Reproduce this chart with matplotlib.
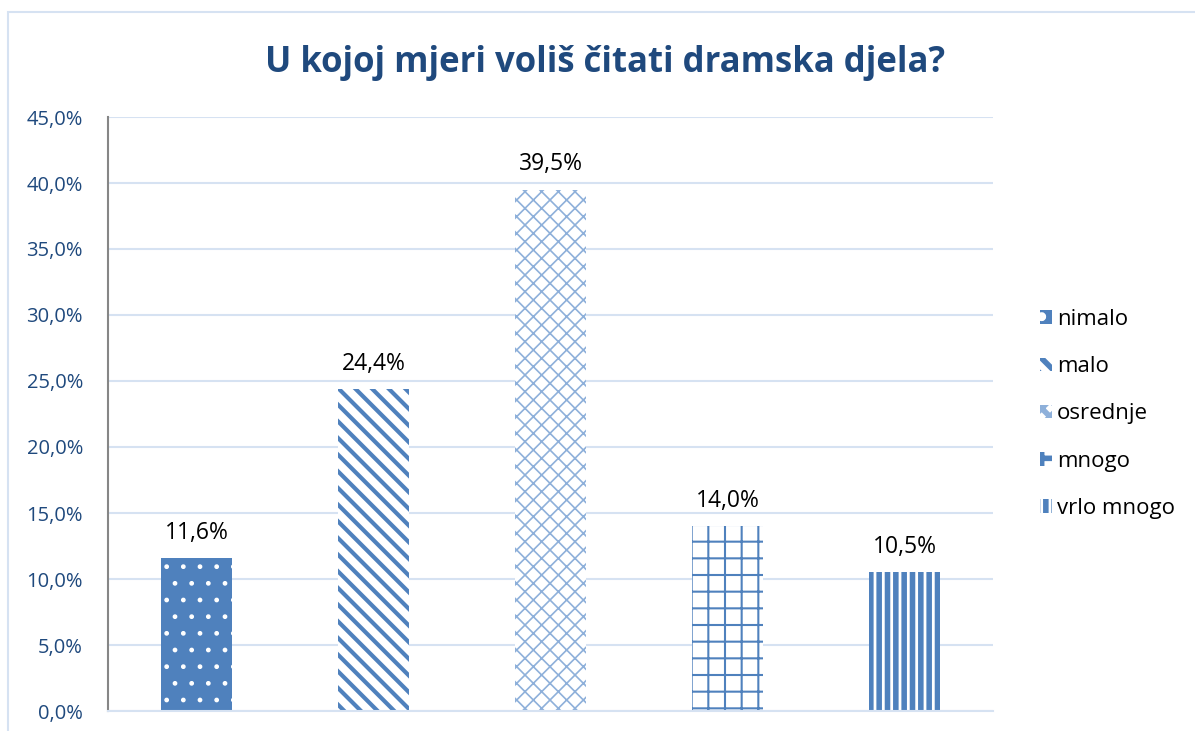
import matplotlib.pyplot as plt
import matplotlib.patches as mpatches
import numpy as np

# podaci
kategorije = ['nimalo', 'malo', 'osrednje', 'mnogo', 'vrlo mnogo']
postotci = [11.6, 24.4, 39.5, 14.0, 10.5]
oznake = ['11,6%', '24,4%', '39,5%', '14,0%', '10,5%']
y_ticks = [0, 5, 10, 15, 20, 25, 30, 35, 40, 45]

plava = '#4F81BD'
tamno_plava = '#1F497D'
mreza = '#D6E2F2'

plt.rcParams['font.family'] = ['Open Sans', 'DejaVu Sans']

fig = plt.figure(figsize=(11.95, 7.31), dpi=100)
# okvir grafikona
fig.patches.append(mpatches.Rectangle((8 / 1195, -0.01), 1.0, 1 - 12 / 731 + 0.01,
                                      transform=fig.transFigure, fill=False,
                                      edgecolor='#D6E2F2', linewidth=1.5))

ax = fig.add_axes([108 / 1195, 1 - 711 / 731, (993 - 108) / 1195, (711 - 117) / 731])

x = np.arange(len(kategorije))
# (facecolor, hatch boja, hatch, debljina)
stilovi = [
    (plava, 'white', '.', 1.0),
    ('white', plava, '\\\\', 3.0),
    ('white', '#8EB0DA', 'xx', 1.2),
    ('white', plava, '+', 1.5),
    ('white', plava, '||', 4.0),
]
bars = []
for i in range(len(kategorije)):
    fc, hc, h, lw = stilovi[i]
    plt.rcParams['hatch.linewidth'] = lw
    b = ax.bar(x[i], postotci[i], width=0.4, color=fc, edgecolor=hc, hatch=h,
               linewidth=0, label=kategorije[i], zorder=2)
    bars.append(b)
    ax.text(x[i], postotci[i] + 1.0, oznake[i], ha='center', va='bottom',
            fontsize=16.5, color='black')

ax.set_xlim(-0.5, 4.5)
ax.set_ylim(0, 45)
ax.set_yticks(y_ticks)
ax.set_yticklabels(['%d,0%%' % v for v in y_ticks], fontsize=14.5, color=tamno_plava)
ax.set_xticks([])
ax.tick_params(axis='y', length=0, pad=18)
ax.grid(axis='y', color=mreza, linewidth=1.5, zorder=0)
ax.set_axisbelow(True)
for s in ['top', 'right']:
    ax.spines[s].set_visible(False)
ax.spines['bottom'].set_color(mreza)
ax.spines['bottom'].set_linewidth(1.5)
ax.spines['left'].set_color('#868686')
ax.spines['left'].set_linewidth(1.5)

fig.text(0.5065, 1 - 63 / 731, 'U kojoj mjeri voliš čitati dramska djela?',
         ha='center', va='center', fontsize=25, fontweight='bold', color=tamno_plava)

fig.legend(handles=[b[0] for b in bars], labels=kategorije, loc='center left',
           bbox_to_anchor=(1020 / 1195, 1 - 414 / 731), frameon=False, fontsize=16,
           handlelength=0.55, handleheight=0.55, handletextpad=0.2, labelspacing=1.18)

fig.savefig('out.png', dpi=100)
